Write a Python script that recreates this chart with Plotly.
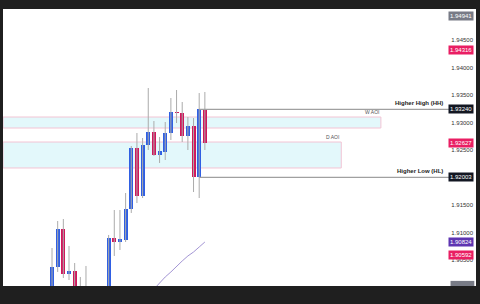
import plotly.graph_objects as go

# ---- data ----
idx = list(range(28))
opens = [1.8977, 1.90373, 1.91064, 1.90245, 1.90300, 1.8992, 1.8985, 1.8995, 1.8980, 1.8970,
         1.8990, 1.90900, 1.90827, 1.90864, 1.91427, 1.92536, 1.91664, 1.92591, 1.92827, 1.92409,
         1.92464, 1.92809, 1.93191, 1.93173, 1.92755, 1.92936, 1.92009, 1.93245]
highs = [1.90718, 1.91209, 1.91245, 1.90755, 1.90445, 1.90191, 1.90391, 1.9001, 1.8998, 1.8999,
         1.90955, 1.91409, 1.91409, 1.91718, 1.92573, 1.92809, 1.92718, 1.93627, 1.93027, 1.92736,
         1.93009, 1.93445, 1.93591, 1.93373, 1.93100, 1.93082, 1.93536, 1.93555]
lows = [1.8968, 1.90282, 1.90173, 1.90136, 1.8981, 1.8975, 1.8970, 1.8972, 1.8962, 1.8960,
        1.8985, 1.90573, 1.90682, 1.90827, 1.91355, 1.91536, 1.91627, 1.92500, 1.92391, 1.92264,
        1.92318, 1.92682, 1.92991, 1.92645, 1.92500, 1.91736, 1.91627, 1.92500]
closes = [1.90373, 1.91064, 1.90245, 1.90300, 1.8992, 1.8985, 1.8995, 1.8980, 1.8970, 1.8990,
          1.90900, 1.90827, 1.90882, 1.91427, 1.92536, 1.91664, 1.92591, 1.92827, 1.92409, 1.92482,
          1.92809, 1.93191, 1.93173, 1.92755, 1.92936, 1.92009, 1.93245, 1.92627]

ma_x = list(range(17, 28))
ma_y = [1.8986, 1.89973, 1.90082, 1.90191, 1.90282, 1.90391, 1.90482, 1.90573, 1.90645, 1.90736, 1.90827]

tick_values = [1.905, 1.910, 1.915, 1.920, 1.925, 1.930, 1.935, 1.940, 1.945]

higher_high = 1.93240
higher_low = 1.92003
w_aoi = (1.92900, 1.93100)
d_aoi = (1.92173, 1.92645)

price_labels = [1.94941, 1.94316, 1.93240, 1.92627, 1.92003, 1.90824, 1.90592]
price_label_colors = ["#787b86", "#e91e63", "#131722", "#e91e63", "#131722", "#5e35b1", "#e91e63"]
cut_label = 1.90050

x_range = [-8.66, 74.9]
y_range = [1.90027, 1.95064]

BLUE = "#2f5fe3"
RED = "#d0175c"
WICK = "#ababab"

fig = go.Figure()

# AOI boxes
fig.add_shape(type="rect", x0=x_range[0], x1=58.1, y0=w_aoi[0], y1=w_aoi[1],
              fillcolor="#e3f8fb", line=dict(color="#f3c4d4", width=1), layer="below")
fig.add_shape(type="rect", x0=x_range[0], x1=51.1, y0=d_aoi[0], y1=d_aoi[1],
              fillcolor="#e3f8fb", line=dict(color="#f3c4d4", width=1), layer="below")

# HH / HL lines
fig.add_shape(type="line", x0=26, x1=70.3, y0=higher_high, y1=higher_high,
              line=dict(color="#a0a0a0", width=1.2))
fig.add_shape(type="line", x0=26, x1=70.3, y0=higher_low, y1=higher_low,
              line=dict(color="#a0a0a0", width=1.2))

# wicks
wx, wy = [], []
for i, h, l in zip(idx, highs, lows):
    wx += [i, i, None]
    wy += [l, h, None]
fig.add_trace(go.Scatter(x=wx, y=wy, mode="lines", line=dict(color=WICK, width=1),
                         hoverinfo="skip", showlegend=False))

# bodies
body_colors = [BLUE if c >= o else RED for o, c in zip(opens, closes)]
fig.add_trace(go.Bar(x=idx, y=[c - o for o, c in zip(opens, closes)], base=opens,
                     marker=dict(color=body_colors, line=dict(width=0)),
                     width=0.72, showlegend=False))

# moving average
fig.add_trace(go.Scatter(x=ma_x, y=ma_y, mode="lines", line=dict(color="#a395d4", width=1),
                         showlegend=False))

# cut label at the bottom (clipped by plot area)
fig.add_shape(type="rect", x0=70.4, x1=74.6, y0=cut_label - 0.0008, y1=cut_label + 0.0007,
              fillcolor="#787b86", line=dict(width=0))
fig.add_trace(go.Scatter(x=[72.5], y=[cut_label], mode="text", text=[f"{cut_label:.5f}"],
                         textfont=dict(color="white", size=6, family="Arial"),
                         cliponaxis=True, showlegend=False))

# price labels
for p, c in zip(price_labels, price_label_colors):
    fig.add_annotation(x=1, xref="paper", y=p, yref="y", xanchor="right", yanchor="middle",
                       xshift=-2, text=f"{p:.5f}", showarrow=False,
                       font=dict(color="white", size=6, family="Arial"),
                       bgcolor=c, borderpad=1)

# texts
fig.add_annotation(x=69.5, y=higher_high, xanchor="right", yanchor="bottom", yshift=1,
                   text="<b>Higher High (HH)</b>", showarrow=False,
                   font=dict(color="#222", size=6, family="Arial"))
fig.add_annotation(x=69.5, y=higher_low, xanchor="right", yanchor="bottom", yshift=1,
                   text="<b>Higher Low (HL)</b>", showarrow=False,
                   font=dict(color="#222", size=6, family="Arial"))
fig.add_annotation(x=58.1, y=w_aoi[1], xanchor="right", yanchor="bottom", yshift=0,
                   text="W AOI", showarrow=False,
                   font=dict(color="#555", size=5, family="Arial"))
fig.add_annotation(x=51.1, y=d_aoi[1], xanchor="right", yanchor="bottom", yshift=0,
                   text="D AOI", showarrow=False,
                   font=dict(color="#555", size=5, family="Arial"))

fig.update_layout(
    width=480, height=304,
    margin=dict(l=3, r=4, t=9, b=18),
    paper_bgcolor="#1f1f1f",
    plot_bgcolor="white",
    bargap=0,
    showlegend=False,
    xaxis=dict(range=x_range, visible=False, fixedrange=True),
    yaxis=dict(range=y_range, side="right", ticklabelposition="inside",
               tickvals=tick_values, tickformat=".5f", showgrid=False, zeroline=False,
               ticks="", showline=False,
               tickfont=dict(size=6, color="#333", family="Arial")),
)

fig.write_html("out.html")
